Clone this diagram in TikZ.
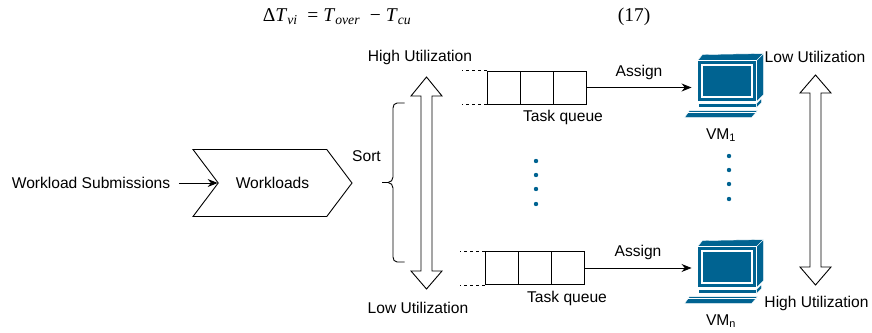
\documentclass[tikz,border=0pt]{standalone}
\usepackage{fontspec}
\setmainfont{Liberation Sans}
\newfontfamily\eqfont{Liberation Serif}
\usetikzlibrary{arrows.meta,shapes.symbols,positioning}
\definecolor{vmblue}{RGB}{0,99,145}

% computer icon drawn inside the box of a named node
\newcommand{\vmicon}[1]{%
  \begin{scope}[shift={(#1.north west)}, icon/.style={fill=vmblue, draw=white, line width=0.4pt}]
    \filldraw[icon] (6,7) -- (11,1) -- (72,0) -- (65,7) -- cycle;
    \filldraw[icon] (65,7) -- (72,0) -- (72,41) -- (65,48) -- cycle;
    \filldraw[icon] (6,7) rectangle (65,48);
    \draw[white, line width=1.3pt] (10.5,11.5) rectangle (60.5,43.5);
    \filldraw[icon] (7,50) rectangle (65,54);
    \filldraw[icon] (65,50) -- (70,45) -- (70,49) -- (65,54) -- cycle;
    \filldraw[icon] (-2,57) -- (66,57) -- (60,64) -- (-7,64) -- cycle;
    \draw[white, line width=0.5pt] (-3.5,59) -- (64.5,59);
  \end{scope}}

\begin{document}
\begin{tikzpicture}[
    x=1pt, y=-1pt,
    line width=0.9pt,
    every node/.style={font=\fontsize{15.6}{18}\selectfont},
    cell/.style={draw, minimum width=33, minimum height=33, inner sep=0},
    vmbox/.style={minimum width=70, minimum height=64, inner sep=0},
    feed/.style={-{Stealth[length=10pt, width=8pt]}},
    queue tail/.style={dash pattern=on 3pt off 3pt, line width=0.7pt}
]
\useasboundingbox (0,0) rectangle (872,332);

% equation
\node (eq) at (337,17) {\fontsize{19.5}{22}\selectfont\eqfont
    Δ\textit{T}\textsubscript{\textit{vi}}\ \ = \textit{T}\textsubscript{\textit{over}}\ \ − \textit{T}\textsubscript{\textit{cu}}};
\node (eqno) at (634,17) {\fontsize{19.5}{22}\selectfont\eqfont (17)};

% input side
\node (sub) at (91,183) {Workload Submissions};
\node (wl) [signal, draw, signal from=west, signal to=east, signal pointer angle=106,
    minimum width=159, minimum height=67, inner sep=0] at (272.5,183) {Workloads};
\draw[feed] (sub.east) ++(5,0) -- (wl.west);

% sorting
\node (sort) at (366.5,156) {Sort};
\draw (404.5,103) -- (397,103) to[out=180,in=90] (393,108) -- (393,177)
    to[out=-90,in=0] (388,182.5) -- (382,182.5);
\draw (388,182.5) to[out=0,in=90] (393,188) -- (393,257)
    to[out=-90,in=180] (397,262) -- (404.5,262);
\draw (426.5,77) -- (442,96) -- (432,96) -- (432,271) -- (442,271) -- (426.5,289)
    -- (411,271) -- (421,271) -- (421,96) -- (411,96) -- cycle;
\node (hiL) at (420,57) {High Utilization};
\node (loL) at (418,308) {Low Utilization};

% queues
\node (qa1) [cell] at (503.5,87.5) {};
\node (qa2) [cell] at (536.5,87.5) {};
\node (qa3) [cell] at (569.5,87.5) {};
\draw[queue tail] (qa1.north west) -- ++(-25,0);
\draw[queue tail] (qa1.south west) -- ++(-25,0);
\node (tqa) at (563,117) {Task queue};

\node (qb1) [cell] at (501.5,268) {};
\node (qb2) [cell] at (534.5,268) {};
\node (qb3) [cell] at (567.5,268) {};
\draw[queue tail] (qb1.north west) -- ++(-25,0);
\draw[queue tail] (qb1.south west) -- ++(-25,0);
\node (tqb) at (567,298) {Task queue};

% virtual machines
\node (vm1) [vmbox] at (727,86) {};
\vmicon{vm1}
\node (vm1lbl) at (721,135) {VM\textsubscript{1}};
\node (vmn) [vmbox] at (727,272) {};
\vmicon{vmn}
\node (vmnlbl) at (721,321) {VM\textsubscript{n}};

\draw[feed] (qa3.east) -- (qa3.east -| vm1.west) node[midway, above=4pt] (asa) {Assign};
\draw[feed] (qb3.east) -- (qb3.east -| vmn.west) node[midway, above=4pt] (asb) {Assign};

% dots
\fill[vmblue] (536,161) circle (2.2);
\fill[vmblue] (536,175) circle (2.2);
\fill[vmblue] (536,189) circle (2.2);
\fill[vmblue] (536,204) circle (2.2);
\fill[vmblue] (729,156) circle (2.2);
\fill[vmblue] (729,170) circle (2.2);
\fill[vmblue] (729,184) circle (2.2);
\fill[vmblue] (729,199) circle (2.2);

% utilization scale of the VMs
\draw (815.5,75) -- (831,93) -- (821,93) -- (821,267) -- (831,267) -- (815.5,285)
    -- (800,267) -- (810,267) -- (810,93) -- (800,93) -- cycle;
\node (loR) at (815,57) {Low Utilization};
\node (hiR) at (816.5,303) {High Utilization};

\end{tikzpicture}
\end{document}
